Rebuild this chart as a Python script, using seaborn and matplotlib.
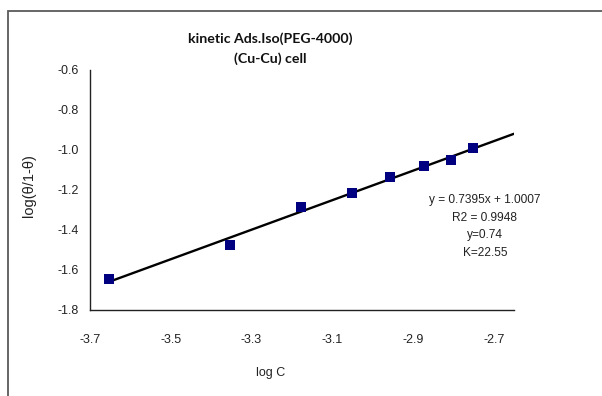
import numpy as np
import pandas as pd
import matplotlib
matplotlib.use("Agg")
import matplotlib.pyplot as plt
from matplotlib import font_manager
from matplotlib.patches import Rectangle
import seaborn as sns

# Langmuir-type adsorption data: log C vs log(theta / (1 - theta))
log_c = [-3.652, -3.353, -3.177, -3.050, -2.956, -2.874, -2.807, -2.751]
log_theta = [-1.645, -1.476, -1.286, -1.215, -1.133, -1.082, -1.048, -0.990]

x_ticks = [-3.7, -3.5, -3.3, -3.1, -2.9, -2.7]
y_ticks = [-1.8, -1.6, -1.4, -1.2, -1.0, -0.8, -0.6]

title_lines = ["kinetic Ads.Iso(PEG-4000)", "(Cu-Cu) cell"]
fit_lines = ["y = 0.7395x + 1.0007", "R2 = 0.9948", "y=0.74", "K=22.55"]

sns.set_theme(style="white")

available = {f.name for f in font_manager.fontManager.ttflist}
narrow = "Liberation Sans Narrow" if "Liberation Sans Narrow" in available else "Liberation Sans"
plt.rcParams["font.family"] = [narrow, "DejaVu Sans"]

df = pd.DataFrame({"logC": log_c, "logT": log_theta})

fig = plt.figure(figsize=(6.02, 3.96), dpi=100)
ax = fig.add_axes([90 / 602, 1 - 310 / 396, 424 / 602, 240 / 396])

# outer chart frame (left and top edges visible)
fig.patches.append(Rectangle((7.5 / 602, -0.2), 1.2, 1 - 11 / 396 + 0.2,
                             transform=fig.transFigure, fill=False,
                             edgecolor="#5a5a5a", linewidth=1.3, zorder=0))

# linear trend line from a least-squares fit of the data
slope, intercept = np.polyfit(df["logC"], df["logT"], 1)
trend = pd.DataFrame({"logC": [min(log_c), -2.65]})
trend["logT"] = slope * trend["logC"] + intercept
sns.lineplot(data=trend, x="logC", y="logT", ax=ax, color="black",
             linewidth=1.7, zorder=2)

sns.scatterplot(data=df, x="logC", y="logT", ax=ax, marker="s", s=44,
                color="#000080", edgecolor="#000080", linewidth=0, zorder=3)

ax.set_xlim(-3.7, -2.65)
ax.set_ylim(-1.8, -0.6)
ax.set_xticks(x_ticks)
ax.set_yticks(y_ticks)
ax.set_xticklabels([f"{v:.1f}" for v in x_ticks])
ax.set_yticklabels([f"{v:.1f}" for v in y_ticks])

for side in ("top", "right"):
    ax.spines[side].set_visible(False)
for side in ("left", "bottom"):
    ax.spines[side].set_color("#222222")
    ax.spines[side].set_linewidth(1.0)

ax.tick_params(axis="both", which="major", direction="out", length=4,
               width=1.0, color="#222222", labelsize=9, labelcolor="#222222")
ax.tick_params(axis="y", pad=4)
ax.tick_params(axis="x", pad=13)

ax.set_xlabel("log C", fontsize=9, color="#222222")
ax.set_ylabel("log(θ/1-θ)", fontsize=10.5, color="#222222")
ax.xaxis.set_label_coords((271 - 90) / 424, -(367 - 310) / 240)
ax.yaxis.set_label_coords((36 - 90) / 424, (310 - 186) / 240)

fig.text(270 / 602, 1 - 48.5 / 396, "\n".join(title_lines), ha="center",
         va="center", fontsize=10.2, fontweight="bold", linespacing=1.75,
         family=["Lato", "DejaVu Sans"], color="#111111")

ax.text((485 - 90) / 424, (310 - 226.5) / 240, "\n".join(fit_lines),
        transform=ax.transAxes, ha="center", va="center", fontsize=8.6,
        linespacing=1.6, color="#222222")

fig.savefig("out.png", dpi=100)
